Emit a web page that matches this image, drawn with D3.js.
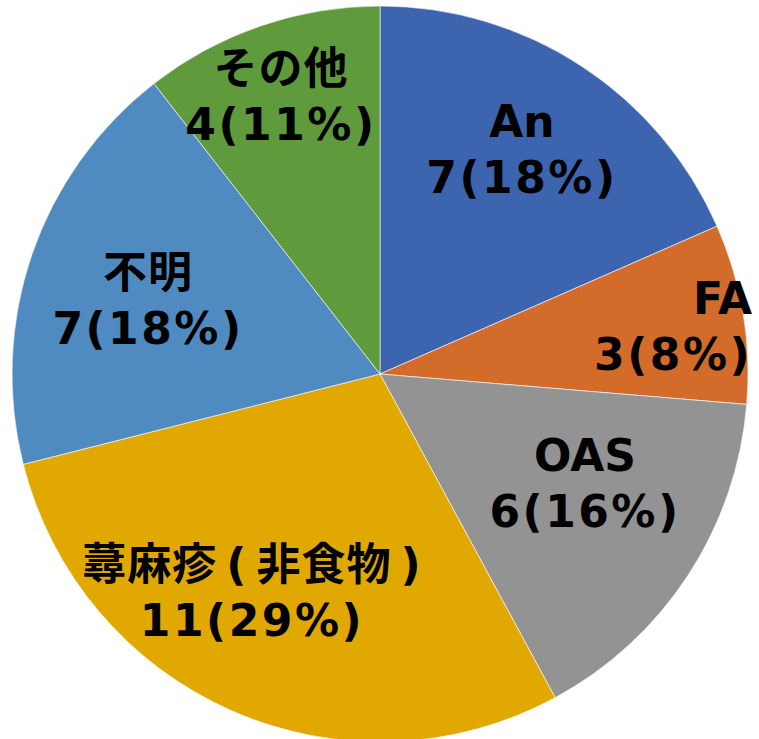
<!DOCTYPE html>
<html><head><meta charset="utf-8">
<script src="https://cdn.jsdelivr.net/npm/d3@7"></script>
<style>html,body{margin:0;padding:0;background:#fff;}svg{display:block;}</style>
</head><body>
<svg id="chart" width="759" height="739"></svg>
<script>
const categories = ["An", "FA", "OAS", "蕁麻疹(非食物)", "不明", "その他"];
const values = [7, 3, 6, 11, 7, 4];
const percentLabels = ["18%", "8%", "16%", "29%", "18%", "11%"];
const colors = ["#3D64AE", "#D36C2B", "#939393", "#E0A800", "#4F8AC0", "#5F9A3C"];
// label placement (layout only): radial factor, angle nudge (deg), anchor
const labelRadius = [0.687, 1.015, 0.653, 0.725, 0.650, 0.760];
const labelAngleNudge = [1.0, 4.5, -1.7, 5.0, -4.9, -1.8];
const labelAnchor = ["middle", "end", "middle", "middle", "middle", "middle"];

const svg = d3.select("#chart");
const cx = 380, cy = 374, R = 368;
const g = svg.append("g").attr("transform", `translate(${cx},${cy})`);

const data = categories.map((c, i) => ({cat: c, value: values[i], pct: percentLabels[i], i}));
const pie = d3.pie().value(d => d.value).sort(null);
const arc = d3.arc().innerRadius(0).outerRadius(R);
const arcs = pie(data);

g.selectAll("path").data(arcs).join("path")
  .attr("d", arc)
  .attr("fill", d => colors[d.data.i])
  .attr("stroke", "#ffffff")
  .attr("stroke-width", 0.6);

const fontSize = 44, halfGap = 28, parenPad = 9;
const fontFam = "'DejaVu Sans', 'Noto Sans CJK JP', sans-serif";
const cjk = /[\u3040-\u30ff\u4e00-\u9fff]/;

const lbl = g.selectAll("g.lbl").data(arcs).join("g").attr("class", "lbl")
  .attr("transform", d => {
    const i = d.data.i;
    const a = (d.startAngle + d.endAngle) / 2 + labelAngleNudge[i] * Math.PI / 180;
    const r = R * labelRadius[i];
    return `translate(${r * Math.sin(a)},${-r * Math.cos(a)})`;
  });

lbl.each(function(d) {
  const sel = d3.select(this);
  const anchor = labelAnchor[d.data.i];
  const lines = [d.data.cat, `${d.data.value}(${d.data.pct})`];
  lines.forEach((line, k) => {
    const isCJK = cjk.test(line);
    const t = sel.append("text")
      .attr("text-anchor", anchor)
      .attr("font-family", fontFam)
      .attr("font-weight", "bold")
      .attr("font-size", fontSize)
      .attr("fill", "#000")
      .attr("letter-spacing", k === 1 ? 2.5 : (isCJK ? 1 : 0));
    const parts = isCJK ? line.split(/([()])/).filter(p => p.length) : [line];
    let prevParen = false;
    parts.forEach((p, j) => {
      const ts = t.append("tspan").text(p);
      if (j === 0) ts.attr("x", 0).attr("y", k === 0 ? -halfGap : halfGap);
      const isParen = p === "(" || p === ")";
      if (j > 0 && (isParen || prevParen)) ts.attr("dx", parenPad);
      prevParen = p === "(";
    });
  });
});
</script>
</body></html>
